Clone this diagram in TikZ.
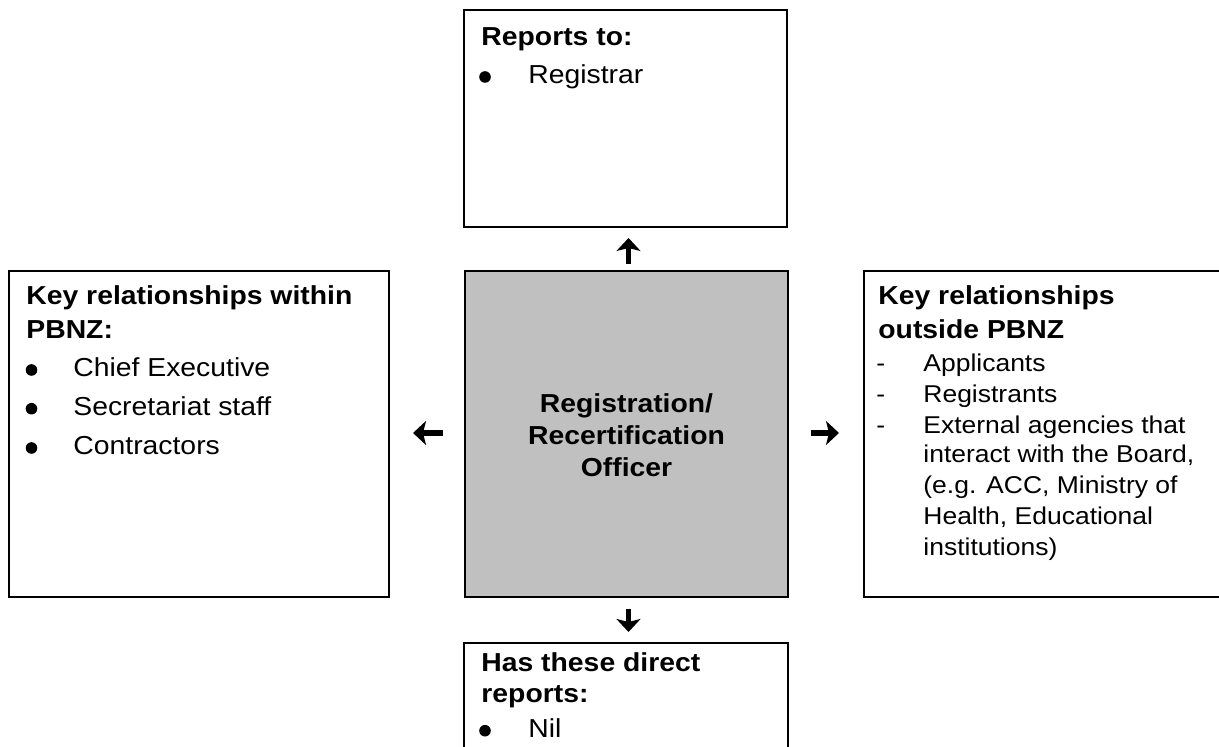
\documentclass[tikz,border=0pt]{standalone}
\usepackage{fontspec}
\setmainfont{Liberation Sans}[FakeStretch=1.09]
\usetikzlibrary{fit,arrows.meta}
\definecolor{boxgray}{RGB}{192,192,192}
\begin{document}
\begin{tikzpicture}[x=0.5pt, y=-0.5pt,
  panel/.style={draw=black, line width=1.1pt, inner sep=0pt},
  tx/.style={anchor=base west, inner sep=0pt, font=\fontsize{13}{15}\selectfont},
  hd/.style={anchor=base west, inner sep=0pt, font=\fontsize{13}{15}\selectfont\bfseries},
  sm/.style={anchor=base west, inner sep=0pt, font=\fontsize{12.15}{14}\selectfont},
  ctr/.style={anchor=base, inner sep=0pt, font=\fontsize{13}{15}\selectfont\bfseries},
  dot/.style={circle, fill=black, inner sep=0pt, minimum size=5.8pt},
  bigarrow/.style={line width=2.6pt, -{Stealth[length=6.5pt,width=12pt,inset=1.5pt]}}
]
\useasboundingbox (0,0) rectangle (1219,747);
\clip (0,0) rectangle (1219,747);

% box corners
\coordinate (topNW) at (464,10);   \coordinate (topSE) at (787,227);
\coordinate (midNW) at (465,271);  \coordinate (midSE) at (788,597);
\coordinate (lftNW) at (9,271);    \coordinate (lftSE) at (389,597);
\coordinate (rgtNW) at (864,271);  \coordinate (rgtSE) at (1240,597);
\coordinate (botNW) at (464,643);  \coordinate (botSE) at (788,780);

\node[panel, fit=(topNW)(topSE)] (top) {};
\node[panel, fill=boxgray, line width=1.3pt, fit=(midNW)(midSE)] (mid) {};
\node[panel, fit=(lftNW)(lftSE)] (lft) {};
\node[panel, fit=(rgtNW)(rgtSE)] (rgt) {};
\node[panel, fit=(botNW)(botSE)] (bot) {};

% top box text
\node[hd] (topH) at (481,45.7) {Reports to:};
\node[dot] (topB1) at (485,77) {};
\node[tx] (topI1) at (528,84) {Registrar};

% left box text
\node[hd] (lftH1) at (26,305) {Key relationships within};
\node[hd] (lftH2) at (26,339) {PBNZ:};
\node[dot] (lftB1) at (31.5,370) {};
\node[tx] (lftI1) at (73,377) {Chief Executive};
\node[dot] (lftB2) at (31.5,408.7) {};
\node[tx] (lftI2) at (73,415.7) {Secretariat staff};
\node[dot] (lftB3) at (31.5,448) {};
\node[tx] (lftI3) at (73,455) {Contractors};

% centre box text
\node[ctr] (midL1) at (626.5,413) {Registration/};
\node[ctr] (midL2) at (626.5,445) {Recertification};
\node[ctr] (midL3) at (626.5,477) {Officer};

% right box text
\node[hd] (rgtH1) at (878,305) {Key relationships};
\node[hd] (rgtH2) at (878,339) {outside PBNZ};
\node[sm] (rgtD1) at (876,371.7) {-};
\node[sm] (rgtI1) at (923,371.7) {Applicants};
\node[sm] (rgtD2) at (876,402.3) {-};
\node[sm] (rgtI2) at (923,402.3) {Registrants};
\node[sm] (rgtD3) at (876,433.3) {-};
\node[sm] (rgtI3) at (923,433.3) {External agencies that};
\node[sm] (rgtI4) at (923,462.7) {interact with the Board,};
\node[sm] (rgtI5) at (923,493.3) {(e.g. ACC, Ministry of};
\node[sm] (rgtI6) at (923,525) {Health, Educational};
\node[sm] (rgtI7) at (923,555) {institutions)};

% bottom box text
\node[hd] (botH1) at (481,671) {Has these direct};
\node[hd] (botH2) at (481,702.7) {reports:};
\node[dot] (botB1) at (485,730.7) {};
\node[tx] (botI1) at (528,737.7) {Nil};

% arrows
\coordinate (upTail) at (628.5,264);  \coordinate (upHead) at (628.5,238);
\coordinate (dnTail) at (628.5,609);  \coordinate (dnHead) at (628.5,632);
\coordinate (lfTail) at (443,433);    \coordinate (lfHead) at (413,433);
\coordinate (rtTail) at (811,433);    \coordinate (rtHead) at (839,433);
\draw[bigarrow] (upTail) -- (upHead);
\draw[bigarrow] (dnTail) -- (dnHead);
\draw[bigarrow] (lfTail) -- (lfHead);
\draw[bigarrow] (rtTail) -- (rtHead);
\end{tikzpicture}
\end{document}
